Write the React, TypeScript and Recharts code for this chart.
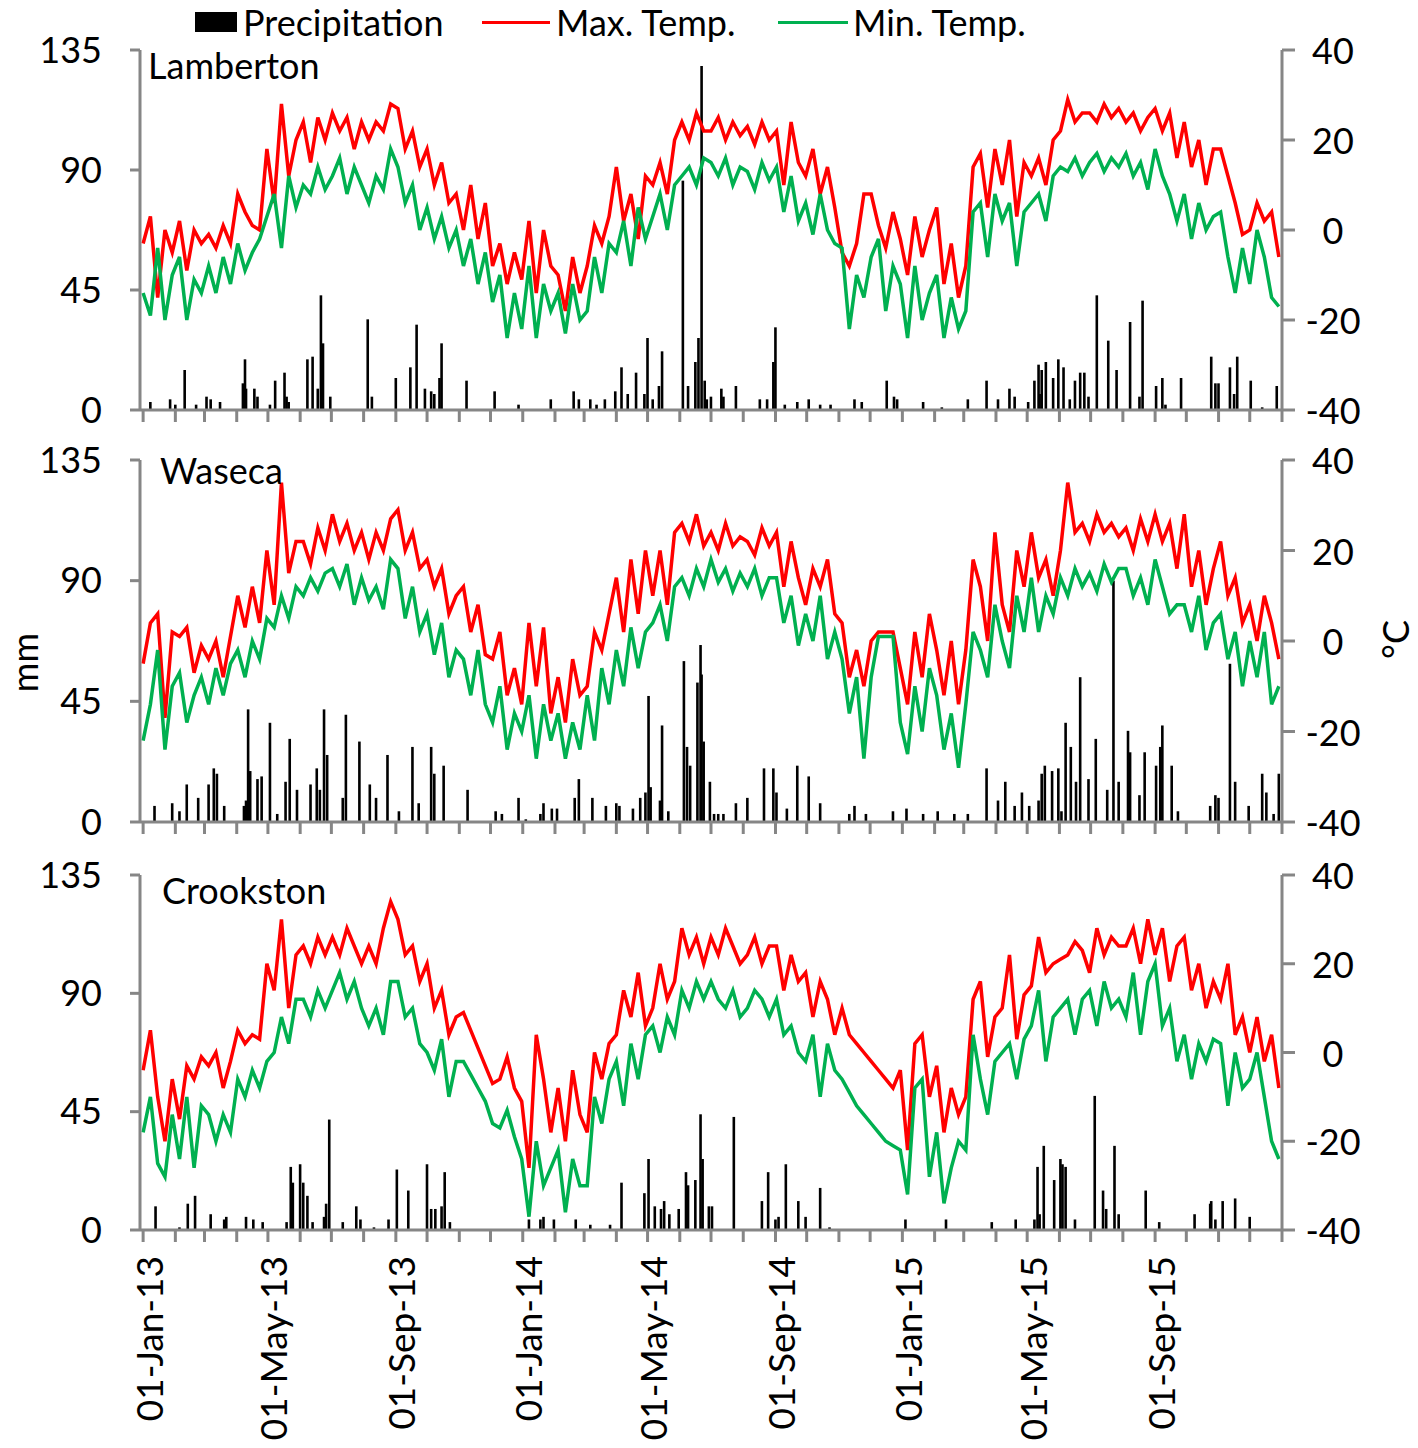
import React from 'react';
import { ComposedChart, Bar, Line, XAxis, YAxis } from 'recharts';

// x axis: days since 01-Jan-13
const monthStarts = [
  0, 31, 59, 90, 120, 151, 181, 212, 243, 273, 304, 334,
  365, 396, 424, 455, 485, 516, 546, 577, 608, 638, 669, 699,
  730, 761, 789, 820, 850, 881, 911, 942, 973, 1003, 1034, 1064, 1095,
];
const labelDays = [0, 120, 243, 365, 485, 608, 730, 850, 973];
const labelTexts = [
  '01-Jan-13', '01-May-13', '01-Sep-13',
  '01-Jan-14', '01-May-14', '01-Sep-14',
  '01-Jan-15', '01-May-15', '01-Sep-15',
];
const mmTicks = [0, 45, 90, 135];
const tempTicks = [-40, -20, 0, 20, 40];

// temperatures (day 0, 7, 14 ...)
const lambertonMax = [
  -3, 3, -15, 0, -5, 2, -9, 0, -3, -1, -4, 1, -3, 8, 4, 1, 0, 18, 6, 28, 12, 20, 24, 15, 25, 20,
  26, 22, 25, 18, 24, 20, 24, 22, 28, 27, 18, 22, 14, 18, 10, 15, 6, 8, 0, 10, -2, 6, -8, -3, -12, -5,
  -11, 2, -14, 0, -8, -10, -18, -6, -14, -8, 1, -3, 3, 14, 2, 8, -2, 12, 10, 15, 8, 20, 24, 20, 26, 22,
  22, 25, 20, 24, 21, 23, 19, 24, 20, 22, 10, 24, 15, 12, 18, 8, 14, 5, -5, -8, -3, 8, 8, 1, -4, 4,
  -2, -10, 3, -6, 0, 5, -12, -3, -15, -8, 14, 17, 5, 18, 10, 20, 3, 15, 12, 16, 10, 20, 22, 29, 24, 26,
  26, 24, 28, 25, 27, 24, 26, 22, 25, 27, 22, 26, 16, 24, 14, 20, 10, 18, 18, 12, 6, -1, 0, 6, 2, 4, -6,
];
const lambertonMin = [
  -14, -19, -4, -20, -10, -6, -20, -11, -14, -8, -14, -6, -12, -3, -9, -5, -2, 3, 8, -4, 12, 5, 10, 8, 14, 9,
  12, 16, 8, 14, 10, 6, 12, 9, 18, 14, 6, 10, 0, 5, -2, 3, -4, 0, -8, -2, -12, -5, -16, -10, -24, -14,
  -22, -8, -24, -12, -18, -14, -23, -12, -20, -18, -6, -14, -3, -5, 2, -8, 5, -2, 3, 8, 0, 10, 12, 14, 10, 16,
  15, 12, 16, 10, 14, 13, 9, 15, 11, 14, 4, 12, 2, 6, -1, 8, 0, -3, -4, -22, -10, -15, -6, -2, -18, -8,
  -12, -24, -8, -20, -14, -10, -24, -15, -22, -18, 4, 6, -6, 8, 2, 6, -8, 4, 6, 8, 2, 12, 14, 13, 16, 12,
  15, 17, 13, 16, 14, 17, 12, 15, 9, 18, 12, 8, 2, 8, -2, 6, 0, 3, 4, -6, -14, -4, -12, 0, -6, -15, -17,
];
const wasecaMax = [
  -5, 4, 6, -17, 2, 1, 3, -7, -1, -4, 0, -8, 1, 10, 3, 12, 4, 20, 8, 35, 15, 22, 22, 17, 25, 20,
  28, 22, 26, 20, 24, 18, 24, 20, 27, 29, 20, 24, 16, 18, 12, 16, 6, 10, 12, 2, 8, -3, -4, 2, -12, -6,
  -14, 4, -10, 3, -16, -8, -18, -4, -12, -10, 2, -2, 6, 14, 2, 18, 6, 20, 10, 20, 8, 24, 26, 22, 28, 21,
  24, 20, 26, 21, 23, 22, 19, 25, 21, 24, 12, 22, 14, 8, 16, 12, 18, 6, 4, -8, -2, -10, 0, 2, 2, 2,
  -6, -14, 2, -8, 6, -2, -12, 0, -14, -2, 18, 12, 0, 24, 8, 2, 20, 12, 24, 14, 18, 10, 20, 35, 24, 26,
  22, 28, 24, 26, 23, 25, 20, 27, 22, 28, 22, 26, 16, 28, 12, 20, 8, 16, 22, 10, 14, 4, 8, 0, 10, 4, -4,
];
const wasecaMin = [
  -22, -14, -2, -24, -10, -7, -18, -12, -8, -14, -6, -12, -5, -2, -8, 0, -4, 5, 3, 10, 5, 12, 10, 14, 11, 15,
  16, 12, 17, 8, 14, 9, 12, 7, 18, 16, 5, 12, 2, 6, -3, 4, -8, -2, -4, -12, -2, -14, -18, -10, -24, -16,
  -20, -12, -26, -14, -22, -16, -26, -18, -24, -12, -22, -6, -14, -2, -10, 3, -6, 2, 4, 8, 0, 12, 14, 10, 16, 12,
  18, 13, 16, 11, 15, 12, 16, 10, 14, 14, 4, 10, -1, 6, 0, 10, -4, 2, -4, -16, -8, -26, -8, 1, 1, 1,
  -18, -25, -10, -20, -6, -12, -24, -16, -28, -14, 2, -2, -8, 8, 0, -6, 10, 2, 14, 2, 10, 6, 14, 10, 16, 12,
  15, 11, 17, 13, 16, 16, 10, 14, 8, 18, 12, 6, 8, 8, 2, 10, -2, 4, 6, -4, 2, -10, 0, -8, 2, -14, -10,
];
const crookstonMax = [
  -4, 5, -10, -20, -6, -15, -3, -6, -1, -3, 0, -8, -2, 5, 2, 4, 3, 20, 14, 30, 10, 22, 24, 20, 26, 22,
  26, 22, 28, 24, 20, 24, 20, 28, 34, 30, 22, 24, 16, 20, 10, 14, 4, 8, 9, 5, 1, -3, -7, -6, -1, -8,
  -11, -26, 4, -6, -18, -8, -20, -4, -14, -18, 0, -6, 2, 4, 14, 8, 18, 6, 10, 20, 12, 16, 28, 22, 26, 20,
  26, 22, 28, 24, 20, 22, 26, 20, 24, 24, 14, 22, 16, 18, 8, 16, 12, 4, 10, 4, 2, 0, -2, -4, -6, -8,
  -4, -22, 2, 4, -10, -3, -18, -8, -14, -10, 12, 16, -1, 8, 10, 22, 3, 13, 15, 26, 18, 20, 21, 22, 25, 23,
  18, 28, 22, 26, 24, 24, 28, 20, 30, 22, 28, 16, 24, 26, 14, 20, 10, 16, 12, 20, 4, 8, 0, 8, -2, 4, -8,
];
const crookstonMin = [
  -18, -10, -25, -28, -14, -24, -10, -26, -12, -14, -20, -14, -18, -6, -10, -4, -8, -2, 0, 8, 2, 12, 12, 8, 14, 10,
  14, 18, 12, 16, 10, 6, 10, 4, 16, 16, 8, 10, 2, 0, -4, 3, -10, -2, -2, -5, -8, -11, -16, -17, -13, -19,
  -24, -37, -20, -30, -26, -22, -36, -24, -30, -30, -10, -16, -6, -2, -12, 2, -6, 4, 6, 0, 8, 4, 14, 10, 16, 12,
  16, 12, 10, 14, 8, 10, 14, 12, 8, 12, 4, 6, 0, -2, 4, -10, 2, -4, -6, -9, -12, -14, -16, -18, -20, -21,
  -22, -32, -8, -6, -28, -18, -34, -26, -20, -22, 4, -6, -14, -2, 0, 2, -6, 3, 6, 14, -2, 8, 10, 12, 4, 12,
  14, 6, 16, 10, 12, 8, 18, 4, 16, 20, 6, 10, -2, 4, -6, 2, -2, 3, 2, -12, 0, -8, -6, 0, -10, -20, -24,
];

// daily precipitation events (day, mm)
const lambertonRainDays = [
  7, 26, 31, 40, 51, 61, 65, 74, 96, 97, 98, 99, 107, 110, 122, 127, 136, 138, 140, 158, 163, 168, 171, 173, 180,
  216, 220, 243, 257, 263, 271, 277, 280, 285, 287, 311, 338, 361, 392, 414, 419, 430, 436, 444, 454, 460, 466,
  474, 482, 485, 490, 496, 499, 519, 524, 531, 534, 537, 540, 542, 546, 556, 558, 570, 593, 600, 606, 608, 617,
  629, 640, 651, 661, 684, 691, 715, 722, 725, 750, 768, 793, 811, 822, 833, 838, 851, 857, 861, 862, 864, 868,
  875, 880, 885, 891, 896, 901, 905, 909, 917, 928, 936, 949, 958, 961, 974, 980, 983, 998, 1027, 1031, 1034,
  1045, 1049, 1052, 1065, 1076, 1090,
];
const lambertonRainMm = [
  3, 4, 2, 15, 2, 5, 4, 3, 10, 8, 19, 8, 8, 5, 2, 11, 14, 5, 3, 19, 20, 8, 43, 25, 5,
  34, 5, 12, 16, 32, 8, 7, 6, 12, 25, 11, 7, 2, 4, 7, 4, 4, 2, 4, 7, 16, 6,
  14, 6, 27, 4, 9, 22, 86, 9, 18, 27, 129, 11, 4, 5, 8, 5, 9, 4, 4, 18, 31, 2,
  3, 4, 2, 2, 4, 3, 11, 5, 4, 3, 1, 4, 11, 4, 8, 5, 3, 11, 17, 6, 15, 18,
  12, 19, 16, 4, 11, 14, 14, 5, 43, 26, 15, 33, 5, 41, 9, 12, 2, 12, 20, 10, 10,
  16, 6, 20, 11, 1, 9,
];
const wasecaRainDays = [
  11, 28, 35, 42, 53, 63, 68, 71, 78, 97, 99, 101, 103, 110, 114, 122, 129, 137, 141, 148, 161, 167, 170, 174,
  177, 192, 195, 208, 218, 224, 235, 246, 259, 265, 277, 280, 289, 312, 339, 345, 361, 368, 382, 385, 393, 398,
  415, 419, 432, 445, 455, 458, 471, 478, 483, 486, 488, 497, 499, 505, 520, 523, 526, 533, 536, 537, 539, 545,
  549, 553, 558, 570, 581, 597, 606, 609, 619, 629, 640, 651, 679, 684, 695, 721, 734, 750, 764, 780, 793, 811,
  822, 829, 838, 845, 852, 861, 864, 867, 874, 880, 883, 887, 892, 897, 901, 909, 916, 927, 933, 938, 947, 949,
  958, 963, 974, 978, 980, 989, 995, 1026, 1031, 1034, 1045, 1050, 1063, 1076, 1080, 1087, 1092,
];
const wasecaRainMm = [
  6, 7, 4, 14, 9, 14, 20, 18, 6, 6, 8, 42, 19, 16, 17, 37, 3, 15, 31, 12, 14, 20, 12, 42,
  25, 9, 40, 30, 14, 9, 25, 4, 28, 7, 28, 18, 21, 12, 4, 3, 9, 1, 3, 7, 5, 5,
  9, 16, 9, 6, 7, 6, 5, 9, 11, 47, 13, 8, 36, 4, 60, 28, 21, 52, 66, 55, 30, 15,
  3, 3, 3, 7, 9, 20, 20, 11, 5, 21, 17, 7, 3, 6, 3, 4, 5, 3, 4, 3, 3, 20,
  8, 15, 6, 11, 6, 8, 18, 21, 19, 20, 4, 37, 28, 15, 54, 16, 31, 12, 90, 15, 34, 26,
  10, 26, 21, 28, 36, 21, 4, 6, 10, 9, 59, 15, 6, 18, 11, 3, 18,
];
const crookstonRainDays = [
  12, 35, 43, 50, 65, 78, 80, 99, 106, 115, 138, 142, 144, 151, 154, 158, 163, 174, 176, 179, 192, 205, 209, 222,
  236, 244, 255, 273, 277, 281, 287, 290, 295, 371, 382, 385, 395, 416, 430, 449, 460, 482, 486, 492, 498, 501,
  506, 515, 522, 524, 531, 536, 538, 544, 547, 568, 595, 601, 608, 611, 618, 630, 637, 651, 660, 733, 772, 816,
  839, 857, 860, 862, 866, 876, 882, 884, 887, 896, 915, 923, 926, 934, 938, 964, 977, 1011, 1026, 1027, 1031,
  1038, 1050, 1064,
];
const crookstonRainMm = [
  9, 1, 10, 13, 6, 4, 5, 5, 4, 3, 3, 24, 18, 25, 18, 13, 3, 5, 10, 42, 3, 9, 4, 1,
  4, 23, 15, 25, 8, 8, 9, 22, 3, 4, 4, 5, 4, 4, 2, 2, 18, 14, 27, 9, 8, 11,
  6, 8, 22, 17, 19, 44, 27, 9, 9, 43, 11, 22, 4, 5, 25, 11, 5, 16, 1, 4, 4, 3,
  4, 4, 24, 6, 32, 19, 27, 25, 24, 4, 51, 15, 8, 32, 6, 15, 3, 6, 10, 11, 4,
  11, 12, 5,
];

const DAYS = 1095;
const WEEK = 7;
const AXIS = '#868686';
const FONT = 'Lato, "Open Sans", sans-serif';

function buildRows(maxT: number[], minT: number[], rainDays: number[], rainMm: number[]) {
  const rain = new Map<number, number>();
  rainDays.forEach((d, i) => rain.set(d, rainMm[i]));
  const rows = [];
  for (let d = 0; d < DAYS; d++) {
    const w = d / WEEK;
    const sampled = d % WEEK === 0 && w < maxT.length;
    rows.push({
      day: d,
      rain: rain.has(d) ? rain.get(d) : null,
      tmax: sampled ? maxT[w] : null,
      tmin: sampled ? minT[w] : null,
    });
  }
  return rows;
}

const labelMap = new Map<number, string>();
labelDays.forEach((d, i) => labelMap.set(d, labelTexts[i]));

function DateTick(props: any) {
  const { x, y, payload } = props;
  const label = labelMap.get(payload.value);
  if (!label) return <g />;
  const ty = y + 14;
  return (
    <text
      x={x + 5}
      y={ty}
      transform={`rotate(-90 ${x + 5} ${ty})`}
      textAnchor="end"
      dominantBaseline="central"
      fontSize={37}
      fontFamily={FONT}
      fill="#000"
    >
      {label}
    </text>
  );
}

function TempTick(props: any) {
  const { x, y, payload } = props;
  return (
    <text
      x={x + 38}
      y={y}
      textAnchor="middle"
      dominantBaseline="central"
      fontSize={36}
      fontFamily={FONT}
      fill="#000"
    >
      {payload.value}
    </text>
  );
}

function NoTick() {
  return <g />;
}

// thin daily column, centred on its day
function RainBar(props: any) {
  const { x, y, width, height } = props;
  if (!height || height <= 0) return <g />;
  const w = 2.6;
  return <rect x={x + width / 2 - w / 2} y={y} width={w} height={height} fill="#000" />;
}

type PanelProps = {
  rows: any[];
  top: number;
  height: number;
  marginTop: number;
  xHeight: number;
  labels: boolean;
};

function Panel({ rows, top, height, marginTop, xHeight, labels }: PanelProps) {
  return (
    <div style={{ position: 'absolute', left: 0, top }}>
      <ComposedChart
        width={1418}
        height={height}
        data={rows}
        margin={{ top: marginTop, right: 0, bottom: 0, left: 0 }}
      >
        <XAxis
          dataKey="day"
          type="number"
          domain={[-3, DAYS]}
          ticks={monthStarts}
          interval={0}
          height={xHeight}
          tickSize={12}
          tickMargin={0}
          axisLine={{ stroke: AXIS, strokeWidth: 3 }}
          tickLine={{ stroke: AXIS, strokeWidth: 3 }}
          tick={labels ? <DateTick /> : <NoTick />}
        />
        <YAxis
          yAxisId="mm"
          domain={[0, 135]}
          ticks={mmTicks}
          interval={0}
          width={140}
          tickSize={10}
          tickMargin={28}
          axisLine={{ stroke: AXIS, strokeWidth: 3 }}
          tickLine={{ stroke: AXIS, strokeWidth: 3 }}
          tick={{ fill: '#000', fontSize: 36, fontFamily: FONT }}
        />
        <YAxis
          yAxisId="t"
          orientation="right"
          domain={[-40, 40]}
          ticks={tempTicks}
          interval={0}
          width={136}
          tickSize={13}
          tickMargin={0}
          axisLine={{ stroke: AXIS, strokeWidth: 3 }}
          tickLine={{ stroke: AXIS, strokeWidth: 3 }}
          tick={<TempTick />}
        />
        <Line
          yAxisId="t"
          dataKey="tmax"
          stroke="#ff0000"
          strokeWidth={3.5}
          dot={false}
          connectNulls
          isAnimationActive={false}
        />
        <Line
          yAxisId="t"
          dataKey="tmin"
          stroke="#00b050"
          strokeWidth={3.5}
          dot={false}
          connectNulls
          isAnimationActive={false}
        />
        <Bar
          yAxisId="mm"
          dataKey="rain"
          fill="#000"
          barSize={3}
          shape={<RainBar />}
          isAnimationActive={false}
        />
      </ComposedChart>
    </div>
  );
}

const textStyle: React.CSSProperties = {
  position: 'absolute',
  fontFamily: FONT,
  fontSize: 36,
  lineHeight: '36px',
  color: '#000',
  whiteSpace: 'nowrap',
  pointerEvents: 'none',
};

const verticalStyle: React.CSSProperties = {
  ...textStyle,
  lineHeight: '32px',
  writingMode: 'vertical-rl',
  transform: 'rotate(180deg)',
};

export default function App() {
  const lamberton = buildRows(lambertonMax, lambertonMin, lambertonRainDays, lambertonRainMm);
  const waseca = buildRows(wasecaMax, wasecaMin, wasecaRainDays, wasecaRainMm);
  const crookston = buildRows(crookstonMax, crookstonMin, crookstonRainDays, crookstonRainMm);

  return (
    <div style={{ position: 'relative', width: 1418, height: 1448, background: '#fff', overflow: 'hidden' }}>
      <style>{'body{margin:0}'}</style>
      <Panel rows={lamberton} top={0} height={440} marginTop={50} xHeight={30} labels={false} />
      <Panel rows={waseca} top={425} height={427} marginTop={35} xHeight={30} labels={false} />
      <Panel rows={crookston} top={835} height={613} marginTop={40} xHeight={218} labels />

      {/* legend */}
      <div style={{ position: 'absolute', left: 195, top: 12, width: 42, height: 20, background: '#000' }} />
      <div style={{ ...textStyle, left: 243, top: 4 }}>Precipitation</div>
      <div style={{ position: 'absolute', left: 482, top: 21, width: 68, height: 3, background: '#ff0000' }} />
      <div style={{ ...textStyle, left: 556, top: 4 }}>Max. Temp.</div>
      <div style={{ position: 'absolute', left: 778, top: 21, width: 70, height: 3, background: '#00b050' }} />
      <div style={{ ...textStyle, left: 853, top: 4 }}>Min. Temp.</div>

      {/* site names */}
      <div style={{ ...textStyle, left: 148, top: 47 }}>Lamberton</div>
      <div style={{ ...textStyle, left: 160, top: 452 }}>Waseca</div>
      <div style={{ ...textStyle, left: 162, top: 872 }}>Crookston</div>

      {/* axis titles */}
      <div style={{ ...verticalStyle, left: 8, top: 633 }}>mm</div>
      <div style={{ ...verticalStyle, left: 1379, top: 620 }}>°C</div>
    </div>
  );
}
